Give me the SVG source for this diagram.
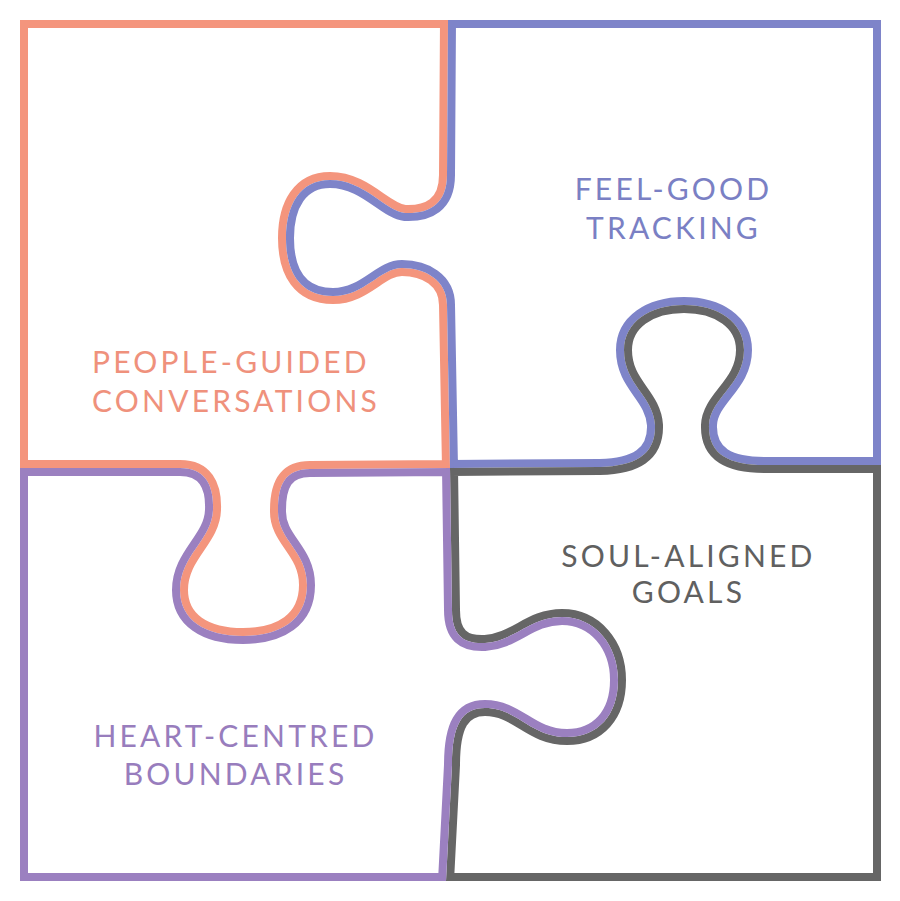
<svg xmlns="http://www.w3.org/2000/svg" xmlns:xlink="http://www.w3.org/1999/xlink" width="900" height="901" viewBox="0 0 900 901">
<style>
.o{fill:none;stroke-width:16;stroke-linejoin:round}
.t{font-family:Lato,"Open Sans",sans-serif;font-size:30px;letter-spacing:3.2px}
.coral{stroke:#F4957D}.blue{stroke:#7E84C9}.grey{stroke:#666666}.purple{stroke:#9B80C0}
</style>
<defs>
<path id="p1" d="M 20 20 L 448 20 L 447 175 C 447 205, 428 214, 405 213 C 385 211, 365 180, 330 180 C 300 180, 286 205, 286 238 C 286 272, 300 296, 333 296 C 365 296, 380 268, 402 268 C 425 268, 447 280, 447 305 L 450 468 L 310 469 C 285 469, 278 485, 278 510 C 277 540, 307 550, 307 585 C 307 620, 280 636, 243 636 C 205 636, 180 620, 180 590 C 180 555, 212 540, 213 510 C 214 485, 205 468, 180 468 L 20 468 Z"/>
<path id="p2" d="M 448 20 L 881 20 L 881 465 L 765 465 C 730 465, 708 455, 709 425 C 710 398, 744 385, 744 350 C 744 322, 718 305, 684 305 C 650 305, 624 322, 624 350 C 624 385, 653 395, 655 425 C 656 455, 635 466, 600 467 L 450 468 L 447 305 C 447 280, 425 268, 402 268 C 380 268, 365 296, 333 296 C 300 296, 286 272, 286 238 C 286 205, 300 180, 330 180 C 365 180, 385 211, 405 213 C 428 214, 447 205, 447 175 Z"/>
<path id="p3" d="M 450 468 L 600 467 C 635 466, 656 455, 655 425 C 653 395, 624 385, 624 350 C 624 322, 650 305, 684 305 C 718 305, 744 322, 744 350 C 744 385, 710 398, 709 425 C 708 455, 730 465, 765 465 L 881 465 L 881 881 L 446 881 L 452 765 C 452 725, 462 708, 485 708 C 518 708, 530 737, 567 737 C 598 737, 618 715, 618 680 C 618 645, 595 617, 562 617 C 530 617, 515 641, 485 643 C 463 644, 452 635, 452 610 Z"/>
<path id="p4" d="M 20 468 L 180 468 C 205 468, 214 485, 213 510 C 212 540, 180 555, 180 590 C 180 620, 205 636, 243 636 C 280 636, 307 620, 307 585 C 307 550, 277 540, 278 510 C 278 485, 285 469, 310 469 L 450 468 L 452 610 C 452 635, 463 644, 485 643 C 515 641, 530 617, 562 617 C 595 617, 618 645, 618 680 C 618 715, 598 737, 567 737 C 530 737, 518 708, 485 708 C 462 708, 452 725, 452 765 L 446 881 L 20 881 Z"/>
<clipPath id="c1"><use xlink:href="#p1"/></clipPath>
<clipPath id="c2"><use xlink:href="#p2"/></clipPath>
<clipPath id="c3"><use xlink:href="#p3"/></clipPath>
<clipPath id="c4"><use xlink:href="#p4"/></clipPath>
</defs>
<rect width="900" height="901" fill="#ffffff"/>
<g id="people-guided-conversations">
<use xlink:href="#p1" class="o coral" clip-path="url(#c1)"/>
<text class="t" fill="#EF917C" x="92" y="373">PEOPLE-GUIDED</text>
<text class="t" fill="#EF917C" x="92" y="412">CONVERSATIONS</text>
</g>
<g id="feel-good-tracking">
<use xlink:href="#p2" class="o blue" clip-path="url(#c2)"/>
<text class="t" fill="#7A80C4" x="673.5" y="200" text-anchor="middle">FEEL-GOOD</text>
<text class="t" fill="#7A80C4" x="673.5" y="239" text-anchor="middle">TRACKING</text>
</g>
<g id="soul-aligned-goals">
<use xlink:href="#p3" class="o grey" clip-path="url(#c3)"/>
<text class="t" fill="#606060" x="688.5" y="567" text-anchor="middle">SOUL-ALIGNED</text>
<text class="t" fill="#606060" x="688.5" y="603" text-anchor="middle">GOALS</text>
</g>
<g id="heart-centred-boundaries">
<use xlink:href="#p4" class="o purple" clip-path="url(#c4)"/>
<text class="t" fill="#987DBD" x="235.5" y="747" text-anchor="middle">HEART-CENTRED</text>
<text class="t" fill="#987DBD" x="235.5" y="785" text-anchor="middle">BOUNDARIES</text>
</g>
<g id="connectors"></g>
</svg>
